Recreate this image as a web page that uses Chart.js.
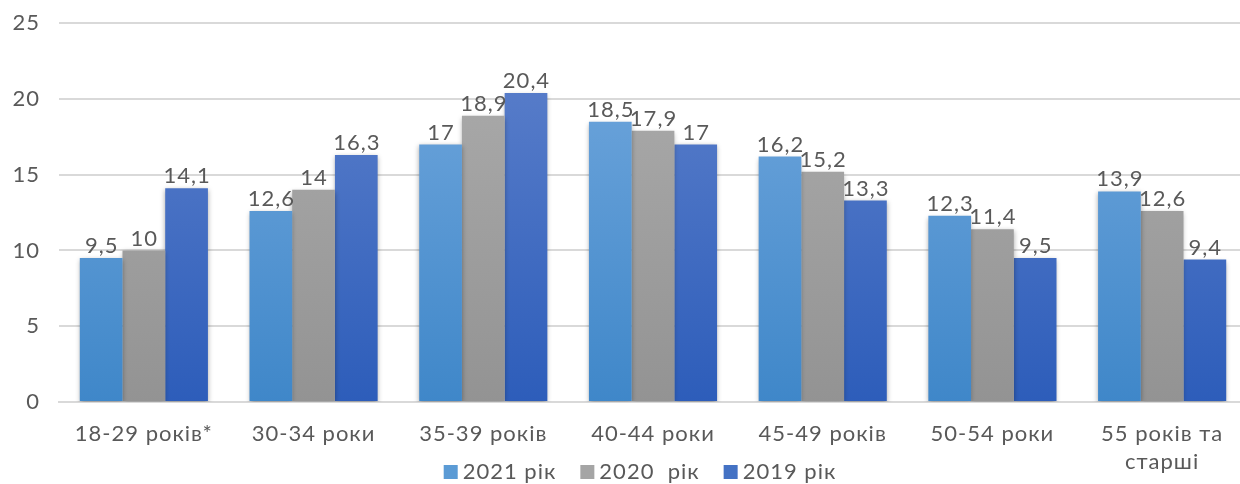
<!DOCTYPE html>
<html>
<head>
<meta charset="utf-8">
<script src="https://cdn.jsdelivr.net/npm/chart.js@4/dist/chart.umd.min.js"></script>
<style>
  html, body { margin: 0; padding: 0; background: #fff; overflow: hidden; }
  body { width: 1240px; height: 484px; position: relative; }
  #wrap { position: absolute; left: 0; top: -9px; width: 1247px; height: 493px; }
</style>
</head>
<body>
<div id="wrap"><canvas id="c"></canvas></div>
<script>
const categories = ['18-29 років*', '30-34 роки', '35-39 років', '40-44 роки', '45-49 років', '50-54 роки', ['55 років та', 'старші']];
const seriesNames = ['2021 рік', '2020  рік', '2019 рік'];
const values2021 = [9.5, 12.6, 17, 18.5, 16.2, 12.3, 13.9];
const values2020 = [10, 14, 18.9, 17.9, 15.2, 11.4, 12.6];
const values2019 = [14.1, 16.3, 20.4, 17, 13.3, 9.5, 9.4];
const yTicks = [0, 5, 10, 15, 20, 25];

const FONT = "'Lato', 'Open Sans', sans-serif";
const TEXT = '#595959';
const LEGEND_CENTER_X = 640;
const LEGEND_Y = 481;

// vertical gradient per series, top colour -> bottom colour
const gradStops = [
  ['#74a9de', '#3f87c9'],
  ['#adadad', '#939393'],
  ['#5f82cc', '#2d5dba']
];
const legendColors = ['#5b9bd5', '#a5a5a5', '#4472c4'];

function makeGradient(i) {
  return function (ctx) {
    const chart = ctx.chart;
    const area = chart.chartArea;
    if (!area) return gradStops[i][1];
    const el = ctx.element;
    let top = area.top, bottom = area.bottom;
    if (el && el.y !== undefined && el.base !== undefined) { top = el.y; bottom = el.base; }
    if (!(bottom > top)) return gradStops[i][0];
    const g = chart.ctx.createLinearGradient(0, top, 0, bottom);
    g.addColorStop(0, gradStops[i][0]);
    g.addColorStop(1, gradStops[i][1]);
    return g;
  };
}

const fmt = v => String(v).replace('.', ',');

// slightly wider letter spacing for all chart text
const spacing = {
  id: 'spacing',
  beforeUpdate(chart) { chart.ctx.letterSpacing = '1px'; },
  beforeDraw(chart) { chart.ctx.letterSpacing = '1px'; }
};

// soft shadow under the bars
const barShadow = {
  id: 'barShadow',
  beforeDatasetsDraw(chart) {
    const c = chart.ctx;
    c.save();
    c.shadowColor = 'rgba(0,0,0,0.35)';
    c.shadowBlur = 5;
    c.shadowOffsetX = 0;
    c.shadowOffsetY = 2;
  },
  afterDatasetsDraw(chart) { chart.ctx.restore(); }
};

// value labels above each bar
const valueLabels = {
  id: 'valueLabels',
  afterDraw(chart) {
    const c = chart.ctx;
    c.save();
    c.font = '22px ' + FONT;
    c.fillStyle = TEXT;
    c.textAlign = 'center';
    c.textBaseline = 'bottom';
    chart.data.datasets.forEach((ds, i) => {
      const meta = chart.getDatasetMeta(i);
      meta.data.forEach((bar, j) => {
        c.fillText(fmt(ds.data[j]), bar.x + 0.5, bar.y - 1);
      });
    });
    c.restore();
  }
};

// compact legend row under the axis labels
const bottomLegend = {
  id: 'bottomLegend',
  afterDraw(chart) {
    const c = chart.ctx;
    c.save();
    c.font = '22px ' + FONT;
    c.textBaseline = 'middle';
    c.textAlign = 'left';
    const box = 14, gap = 5, itemGap = 24;
    const items = chart.data.datasets.map((ds, i) => ({ text: ds.label, color: legendColors[i], w: c.measureText(ds.label).width }));
    const total = items.reduce((s, it) => s + box + gap + it.w, 0) + itemGap * (items.length - 1);
    let x = LEGEND_CENTER_X - total / 2;
    items.forEach(it => {
      c.fillStyle = it.color;
      c.fillRect(x, LEGEND_Y - box / 2, box, box);
      x += box + gap;
      c.fillStyle = TEXT;
      c.fillText(it.text, x, LEGEND_Y);
      x += it.w + itemGap;
    });
    c.restore();
  }
};

const seriesData = [values2021, values2020, values2019];

new Chart(document.getElementById('c'), {
  type: 'bar',
  data: {
    labels: categories,
    datasets: seriesData.map((d, i) => ({
      label: seriesNames[i],
      data: d,
      backgroundColor: makeGradient(i),
      borderWidth: 0,
      barPercentage: 1,
      categoryPercentage: 0.755
    }))
  },
  options: {
    responsive: true,
    maintainAspectRatio: false,
    animation: false,
    devicePixelRatio: 1,
    layout: { padding: { top: 0, right: 0, left: 0, bottom: 0 } },
    plugins: {
      legend: { display: false },
      tooltip: { enabled: false }
    },
    scales: {
      x: {
        grid: { display: false, drawTicks: false },
        border: { display: true, color: '#d9d9d9', width: 2 },
        afterFit(scale) { scale.height = 82; },
        ticks: {
          font: { family: FONT, size: 22, lineHeight: 1.27 },
          color: TEXT,
          padding: 18,
          maxRotation: 0,
          autoSkip: false
        }
      },
      y: {
        min: 0,
        max: 25,
        afterBuildTicks(axis) { axis.ticks = yTicks.map(v => ({ value: v })); },
        afterFit(scale) { scale.width = 59; },
        grid: { color: '#d9d9d9', lineWidth: 2, drawTicks: false },
        border: { display: false },
        ticks: {
          font: { family: FONT, size: 22 },
          color: TEXT,
          padding: 19
        }
      }
    }
  },
  plugins: [spacing, barShadow, valueLabels, bottomLegend]
});
</script>
</body>
</html>
